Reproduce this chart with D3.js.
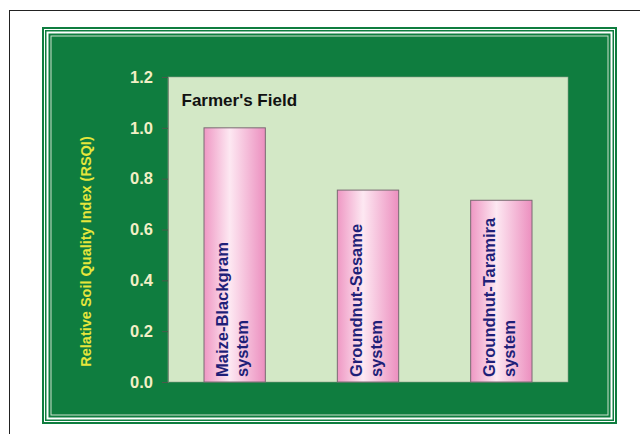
<!DOCTYPE html>
<html>
<head>
<meta charset="utf-8">
<script src="https://cdn.jsdelivr.net/npm/d3@7"></script>
<style>
  html, body { margin: 0; padding: 0; background: #ffffff; }
  svg { display: block; }
  text { font-family: "Liberation Sans", Arial, Helvetica, sans-serif; font-weight: bold; }
</style>
</head>
<body>
<svg id="chart" width="640" height="434"></svg>
<script>
// Cropping systems and their relative soil quality index
const systems = ["Maize-Blackgram", "Groundnut-Sesame", "Groundnut-Taramira"];
const systemSuffix = ["system", "system", "system"];
const rsqi = [1.0, 0.755, 0.715];
const yTicks = [0.0, 0.2, 0.4, 0.6, 0.8, 1.0, 1.2];
const panelTitle = "Farmer's Field";
const yTitle = "Relative Soil Quality Index (RSQI)";

const svg = d3.select("#chart");

// Outer page border
svg.append("rect")
  .attr("x", 9.5).attr("y", 10.5)
  .attr("width", 700).attr("height", 500)
  .attr("fill", "none").attr("stroke", "#222").attr("stroke-width", 1);

// Green frame with a triple-line edge
const frame = { x: 42, y: 27, w: 575, h: 397 };
const green = "#0f7d3f";
const layers = [
  { inset: 0,   fill: green },
  { inset: 2,   fill: "#ffffff" },
  { inset: 3,   fill: green },
  { inset: 4.5, fill: "#ffffff" },
  { inset: 6.5, fill: green },
  { inset: 8.5, fill: "#cfe3cf" },
  { inset: 9.5, fill: green }
];
svg.append("g").selectAll("rect").data(layers).join("rect")
  .attr("x", d => frame.x + d.inset)
  .attr("y", d => frame.y + d.inset)
  .attr("width", d => frame.w - 2 * d.inset)
  .attr("height", d => frame.h - 2 * d.inset)
  .attr("fill", d => d.fill);

// Plot area
const plot = { left: 168, right: 568, top: 77, bottom: 382 };

const x = d3.scaleBand()
  .domain(systems)
  .range([plot.left, plot.right])
  .paddingInner(0.54)
  .paddingOuter(0.27);

const y = d3.scaleLinear()
  .domain([0, 1.2])
  .range([plot.bottom, plot.top]);

svg.append("rect")
  .attr("x", plot.left).attr("y", plot.top)
  .attr("width", plot.right - plot.left)
  .attr("height", plot.bottom - plot.top)
  .attr("fill", "#d3e8c6")
  .attr("stroke", "#8a9a88").attr("stroke-width", 0.6);

// Pink cylinder-like shading for the bars
const defs = svg.append("defs");
const grad = defs.append("linearGradient")
  .attr("id", "barShade")
  .attr("x1", "0%").attr("x2", "100%").attr("y1", "0%").attr("y2", "0%");
grad.append("stop").attr("offset", "0%").attr("stop-color", "#ef98c4");
grad.append("stop").attr("offset", "42%").attr("stop-color", "#fde8f2");
grad.append("stop").attr("offset", "100%").attr("stop-color", "#ec8fbf");

// Y axis
const yAxis = d3.axisLeft(y)
  .tickValues(yTicks)
  .tickFormat(d3.format(".1f"))
  .tickSize(6)
  .tickPadding(9);

const ag = svg.append("g")
  .attr("transform", `translate(${plot.left},0)`)
  .call(yAxis);
ag.select(".domain").attr("stroke", "#6d7d6b").attr("stroke-width", 0.8);
ag.selectAll(".tick line").attr("stroke", "#4a5a4a").attr("stroke-width", 1);
ag.selectAll(".tick text")
  .attr("fill", "#f2efc6")
  .style("font-size", "16.5px")
  .style("font-weight", "bold")
  .style("font-family", "'Liberation Sans', Arial, sans-serif");

// Y axis title
svg.append("text")
  .attr("transform", `translate(91,${(plot.top + plot.bottom) / 2 + 22}) rotate(-90)`)
  .attr("text-anchor", "middle")
  .attr("fill", "#e6e63c")
  .style("font-size", "14.5px")
  .text(yTitle);

// Panel title
svg.append("text")
  .attr("x", 181.5).attr("y", 106)
  .attr("fill", "#111")
  .style("font-size", "17px")
  .text(panelTitle);

// Bars
svg.append("g").selectAll("rect").data(systems).join("rect")
  .attr("x", d => x(d))
  .attr("y", (d, i) => y(rsqi[i]))
  .attr("width", x.bandwidth())
  .attr("height", (d, i) => y(0) - y(rsqi[i]))
  .attr("fill", "url(#barShade)")
  .attr("stroke", "#7a6a72")
  .attr("stroke-width", 1);

// Rotated two-line labels inside the bars
const lab = svg.append("g").selectAll("g").data(systems).join("g")
  .attr("transform", d => `translate(${x(d) + x.bandwidth() / 2},${y(0) - 5}) rotate(-90)`);
lab.append("text")
  .attr("x", 0).attr("y", -6.5)
  .attr("fill", "#1f1f78")
  .style("font-size", "16.5px")
  .text(d => d);
lab.append("text")
  .attr("x", 0).attr("y", 13.5)
  .attr("fill", "#1f1f78")
  .style("font-size", "16.5px")
  .text((d, i) => systemSuffix[i]);
</script>
</body>
</html>
